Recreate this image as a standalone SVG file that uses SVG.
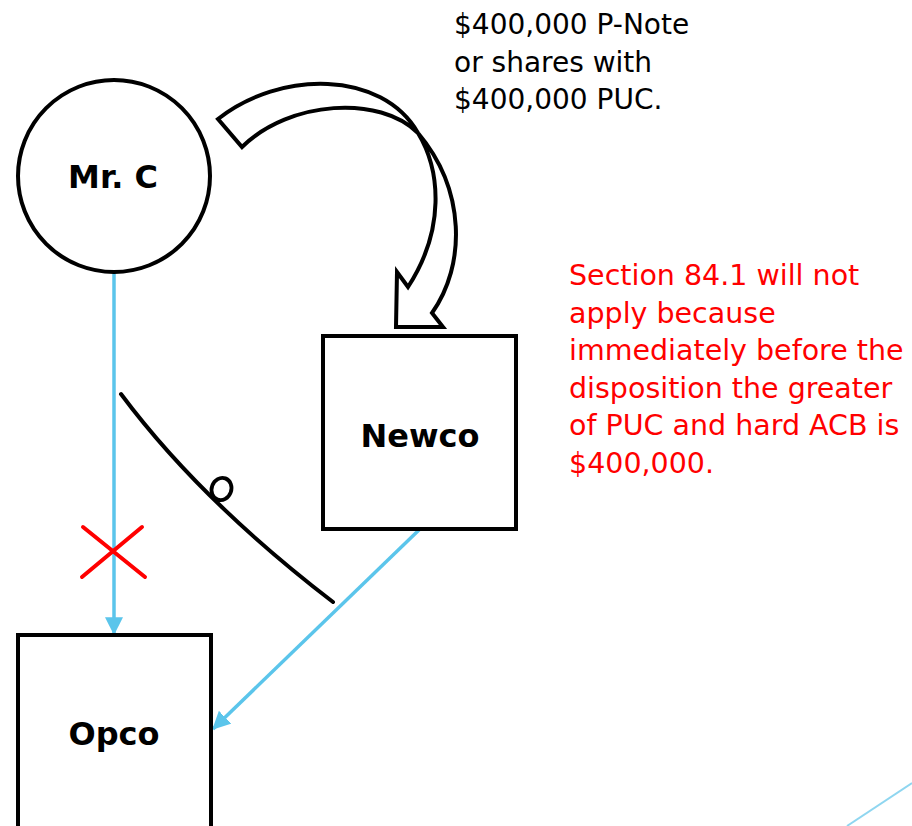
<svg xmlns="http://www.w3.org/2000/svg" width="912" height="826" viewBox="0 0 912 826">
<style>
  .node { fill: #ffffff; stroke: #000000; stroke-width: 4; }
  .label { font-family: "DejaVu Sans", "Liberation Sans", sans-serif; font-weight: bold; font-size: 32px; fill: #000000; text-anchor: middle; }
  .note { font-family: "DejaVu Sans", "Liberation Sans", sans-serif; font-size: 28px; fill: #000000; }
  .red { fill: #ff0000; font-size: 28.5px; }
  .conn { fill: none; stroke: #5bc5eb; stroke-width: 3.5; }
  .ink { fill: none; stroke: #000000; stroke-width: 4; stroke-linecap: round; }
</style>
<defs>
  <marker id="arrow" markerUnits="userSpaceOnUse" markerWidth="18" markerHeight="18" viewBox="0 0 16 16" refX="15" refY="8" orient="auto">
    <path d="M0,0 L16,8 L0,16 Z" fill="#5bc5eb"/>
  </marker>
</defs>
<rect width="912" height="826" fill="#ffffff"/>

<g id="transfer-arrow">
  <path d="M218,119 C280,70 382,70 418,133 C441,171 445,230 408,287 L397,272 L396,327 L443,327 L432,313 C466,265 466,190 418,133 C380,95 290,100 242,147 Z" fill="#ffffff" stroke="#000000" stroke-width="4" stroke-linejoin="miter"/>
</g>

<g id="connectors">
  <line class="conn" x1="114" y1="272" x2="114" y2="634" marker-end="url(#arrow)"/>
  <line class="conn" x1="420" y1="529" x2="213" y2="729" marker-end="url(#arrow)"/>
  <line x1="847" y1="826" x2="912" y2="783" stroke="#8fd6f0" stroke-width="2"/>
</g>

<g id="cut-line">
  <path class="ink" d="M121,394 Q200,500 333,602"/>
  <ellipse cx="221.5" cy="489" rx="9.8" ry="11.3" transform="rotate(20 221.5 489)" fill="none" stroke="#000000" stroke-width="3.8"/>
</g>

<g id="red-x">
  <line x1="83" y1="527" x2="145" y2="577" stroke="#ff0000" stroke-width="4" stroke-linecap="round"/>
  <line x1="142" y1="527" x2="82" y2="577" stroke="#ff0000" stroke-width="4" stroke-linecap="round"/>
</g>

<g id="mr-c">
  <circle class="node" cx="114" cy="176" r="96"/>
  <text class="label" x="113" y="188">Mr. C</text>
</g>

<g id="newco">
  <rect class="node" x="323" y="336" width="193" height="193"/>
  <text class="label" x="420" y="447">Newco</text>
</g>

<g id="opco">
  <rect class="node" x="18" y="635" width="193" height="200"/>
  <text class="label" x="114" y="745">Opco</text>
</g>

<g id="consideration-note">
  <text class="note" x="454" y="34">$400,000 P-Note</text>
  <text class="note" x="454" y="71.5">or shares with</text>
  <text class="note" x="454" y="109">$400,000 PUC.</text>
</g>

<g id="section-note">
  <text class="note red" x="569" y="285">Section 84.1 will not</text>
  <text class="note red" x="569" y="322.5">apply because</text>
  <text class="note red" x="569" y="360">immediately before the</text>
  <text class="note red" x="569" y="397.5">disposition the greater</text>
  <text class="note red" x="569" y="435">of PUC and hard ACB is</text>
  <text class="note red" x="569" y="472.5">$400,000.</text>
</g>
</svg>
